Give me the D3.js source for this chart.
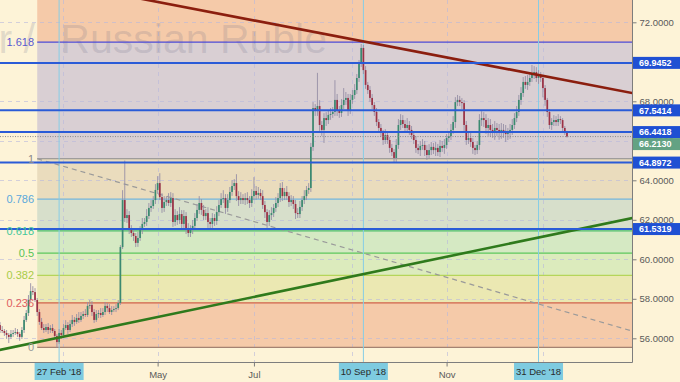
<!DOCTYPE html>
<html><head><meta charset="utf-8">
<script src="https://cdn.jsdelivr.net/npm/d3@7"></script>
<style>html,body{margin:0;padding:0;background:#fdf3d7;}svg{display:block;}</style>
</head><body><svg id="c" width="680" height="382"></svg>
<script>
// ---------- DATA ----------
const firstBarDate = "2018-01-19";
const firstOpen = 56.67;
const closes = [
56.42,56.37,56.27,56.17,56.07,56.22,56.27,56.32,56.22,56.07,56.42,56.93,57.28,57.94,58.39,58.34,57.94,57.33,56.83,56.52,
56.42,56.57,56.42,56.52,56.37,56.12,55.81,56.27,56.17,56.52,56.67,56.42,56.72,56.93,56.83,57.03,56.93,57.13,57.23,57.18,
57.64,57.69,57.33,56.93,57.23,57.28,57.18,57.33,57.64,57.53,57.33,57.43,57.48,57.53,57.79,60.62,63.00,62.09,62.24,61.48,
61.33,61.18,60.83,61.08,61.48,61.79,61.89,62.19,62.60,62.70,63.00,63.51,63.86,63.15,62.60,62.90,63.00,62.85,63.10,61.89,
62.24,61.99,62.29,61.79,62.19,61.58,61.33,61.53,61.69,62.09,62.50,62.85,62.50,62.19,62.34,61.89,61.79,62.09,61.94,62.39,
62.75,63.05,63.10,62.60,63.00,63.41,63.71,63.86,63.20,63.00,63.10,63.00,63.10,63.00,62.85,63.20,63.46,63.26,63.36,63.20,
62.75,62.39,61.89,62.24,62.34,62.60,62.85,63.10,63.61,63.20,63.41,63.20,62.90,63.00,62.80,62.34,62.29,62.65,63.00,63.20,
63.51,63.61,65.69,67.66,67.56,67.76,66.80,66.55,67.15,67.05,67.31,67.36,67.46,68.07,67.56,67.41,67.81,68.07,68.17,67.56,
68.07,68.32,68.57,69.18,69.94,70.70,69.58,68.83,68.57,68.17,67.81,67.46,66.95,66.65,66.40,66.04,66.29,66.04,65.64,65.43,
65.13,65.79,66.80,67.05,66.85,66.65,66.80,66.55,66.29,66.04,65.64,65.53,65.74,65.79,65.53,65.28,65.53,65.69,65.53,65.64,
65.43,65.74,65.64,65.79,66.14,66.24,66.55,66.95,67.96,68.07,67.96,67.91,66.80,66.04,66.14,65.94,65.64,65.53,65.79,67.05,
67.15,67.05,66.65,66.80,66.55,66.45,66.65,66.55,66.40,66.55,66.50,66.34,66.40,66.55,66.80,67.15,67.46,68.07,68.42,68.98,
68.83,68.98,69.18,69.38,69.48,69.18,69.28,69.18,68.67,68.07,67.46,66.80,66.95,67.05,66.95,67.10,67.05,66.65,66.45,66.213
];
const wickHi = [
0.15,0.2,0.1,0.15,0.1,0.2,0.15,0.2,0.15,0.1,0.15,0.2,0.15,0.25,0.4,0.25,0.2,0.1,0.15,0.2,
0.2,0.15,0.2,0.15,0.2,0.1,0.1,0.2,0.15,0.2,0.25,0.15,0.2,0.25,0.15,0.2,0.3,0.2,0.15,0.25,
0.2,0.25,0.2,0.15,0.2,0.15,0.25,0.2,0.2,0.15,0.2,0.2,0.15,0.2,0.15,0.1,0.5,2.0,0.3,0.2,
0.25,0.2,0.15,0.3,0.2,0.3,0.2,0.35,0.25,0.3,0.2,0.3,0.35,0.5,0.2,0.3,0.2,0.35,0.3,0.25,
0.3,0.2,0.35,0.2,0.3,0.2,0.25,0.2,0.3,0.25,0.3,0.35,0.2,0.25,0.2,0.3,0.2,0.25,0.2,0.3,
0.25,0.3,0.4,0.2,0.3,0.25,0.3,0.2,0.45,0.25,0.3,0.2,0.25,0.3,0.2,0.35,0.7,0.25,0.3,0.2,
0.3,0.2,0.15,0.25,0.3,0.2,0.3,0.25,0.25,0.3,0.2,0.3,0.2,0.25,0.2,0.2,0.25,0.3,0.2,0.3,
0.2,0.25,0.2,0.3,0.2,1.68,0.3,0.2,0.25,0.3,0.2,0.3,0.25,1.0,0.3,0.2,0.3,0.6,0.3,0.2,
0.3,0.25,0.3,0.2,0.15,0.2,0.15,0.2,0.15,0.2,0.2,0.15,0.2,0.15,0.2,0.15,0.3,0.2,0.15,0.2,
0.15,0.3,0.3,0.3,0.25,0.2,0.35,0.2,0.2,0.15,0.2,0.2,0.25,0.3,0.2,0.25,0.3,0.25,0.2,0.3,
0.2,0.3,0.25,0.3,0.2,0.25,0.3,0.3,0.25,0.25,0.2,0.2,0.15,0.2,0.35,0.3,0.2,0.15,0.2,0.3,
0.35,0.3,0.3,0.35,0.3,0.3,0.35,0.25,0.3,0.35,0.3,0.3,0.25,0.3,0.3,0.25,0.3,0.25,0.3,0.25,
0.3,0.35,0.3,0.46,0.3,0.25,0.3,0.2,0.15,0.15,0.1,0.15,0.2,0.25,0.2,0.25,0.15,0.1,0.1,0.05
];
const wickLo = [
0.15,0.1,0.15,0.2,0.31,0.1,0.15,0.1,0.15,0.2,0.1,0.15,0.1,0.15,0.1,0.15,0.1,0.2,0.15,0.1,
0.15,0.1,0.2,0.15,0.1,0.15,0.27,0.1,0.2,0.15,0.1,0.2,0.1,0.15,0.2,0.1,0.15,0.1,0.15,0.1,
0.1,0.15,0.2,0.15,0.1,0.2,0.15,0.1,0.15,0.2,0.1,0.15,0.1,0.15,0.1,0.1,0.1,0.2,0.25,0.2,
0.2,0.25,0.21,0.2,0.15,0.2,0.15,0.2,0.15,0.2,0.15,0.2,0.2,0.15,0.25,0.2,0.2,0.15,0.2,0.25,
0.2,0.25,0.2,0.25,0.2,0.3,0.2,0.2,0.25,0.2,0.15,0.2,0.25,0.2,0.2,0.3,0.25,0.2,0.25,0.2,
0.2,0.15,0.2,0.3,0.2,0.15,0.2,0.2,0.25,0.3,0.2,0.2,0.25,0.2,0.25,0.2,0.2,0.25,0.2,0.2,
0.2,0.3,0.3,0.2,0.25,0.2,0.2,0.2,0.2,0.25,0.2,0.2,0.25,0.2,0.25,0.3,0.2,0.2,0.2,0.2,
0.2,0.2,0.2,0.2,0.3,0.3,0.3,0.3,0.66,0.3,0.2,0.25,0.2,0.2,0.3,0.25,0.2,0.2,0.25,0.3,
0.2,0.2,0.2,0.2,0.2,0.2,0.2,0.2,0.2,0.2,0.2,0.2,0.2,0.25,0.2,0.25,0.2,0.2,0.25,0.2,
0.25,0.2,0.2,0.25,0.2,0.2,0.2,0.25,0.2,0.2,0.25,0.2,0.3,0.2,0.3,0.25,0.2,0.25,0.2,0.3,
0.2,0.25,0.2,0.3,0.2,0.2,0.2,0.2,0.3,0.2,0.2,0.3,0.3,0.25,0.2,0.25,0.3,0.25,0.2,0.25,
0.3,0.35,0.3,0.4,0.35,0.3,0.4,0.3,0.35,0.3,0.35,0.4,0.3,0.3,0.25,0.2,0.2,0.2,0.25,0.2,
0.2,0.25,0.2,0.2,0.25,0.2,0.3,0.2,0.47,0.3,0.25,0.2,0.25,0.2,0.2,0.2,0.2,0.2,0.15,0.05
];
const priceTicks = [56,58,60,62,64,66,68,70,72];
const gridMonths = ["2018-03-01","2018-05-01","2018-07-02","2018-09-03","2018-11-01","2019-01-02"];
const monthLabelDates = ["2018-05-01","2018-07-02","2018-11-01"];
const monthLabels = ["May","Jul","Nov"];
const markedDates = ["2018-02-27","2018-09-10","2018-12-31"];
const markedLabels = ["27 Feb '18","10 Sep '18","31 Dec '18"];
const fibStartDate = "2018-02-13";
const fibZero = 55.54, fibOne = 65.09;
const fibLevels = [0,0.236,0.382,0.5,0.618,0.786,1,1.618,2.618];
const fibLabelText = ["0","0.236","0.382","0.5","0.618","0.786","1","1.618",""];
const levelPrices = [69.9452,67.5414,66.4418,64.8972,61.5319];
const lastPrice = 66.2130;
const resistance = [["2018-04-20",73.18],["2018-12-31",69.33]];
const support = [["2018-01-19",55.41],["2018-12-31",61.10]];
const fibDiagonal = [["2018-02-13",65.09],["2018-12-31",57.74]];
const watermarkLeft = "U.S. Dollar /";
const watermarkRight = "Russian Ruble";

// ---------- STYLE ----------
const W=680,H=382, plotR=632, plotB=362;
const cream="#fdf3d7";
const bandColors=["#f5caa9","#ebe8b2","#dcebbd","#d5e9c3","#d7dfcb","#eadcbd","#d9cfd3","#f5caa9"];
const levelLineColors=["#a48272","#d0604a","#b5d55a","#5cc85c","#4cbf6a","#73b4dc","#8a8a8a","#4a4ad8",""];
const labelColors=["#9a9a9a","#e06060","#a8cc48","#56c456","#45c89a","#5aa8dc","#8a8a8a","#5a5ad0",""];
const font="'Liberation Sans', Arial, sans-serif";

// ---------- SCALES ----------
const t0 = new Date(firstBarDate+"T00:00:00Z");
function idxOf(s){
  const d=new Date(s+"T00:00:00Z");
  return d3.utcDay.range(t0,d).filter(v=>v.getUTCDay()%6!==0).length;
}
const x = d3.scaleLinear().domain([0,288.7]).range([0,plotR]);
const y = d3.scaleLinear().domain([56,72]).range([338.3,22.3]);
const xd = s => x(idxOf(s));

const svg=d3.select("#c");
svg.append("rect").attr("width",W).attr("height",H).attr("fill",cream);
svg.append("defs").append("clipPath").attr("id","clip").append("rect").attr("width",plotR).attr("height",plotB);
const plot=svg.append("g").attr("clip-path","url(#clip)");

// fib bands
const fx0 = xd(fibStartDate);
const fibPrice = l => fibZero + l*(fibOne-fibZero);
for(let k=0;k<fibLevels.length-1;k++){
  const a=y(fibPrice(fibLevels[k])), b=y(fibPrice(fibLevels[k+1]));
  plot.append("rect").attr("x",fx0).attr("width",plotR-fx0).attr("y",b).attr("height",a-b).attr("fill",bandColors[k]);
}
// grid
plot.selectAll(".hg").data(priceTicks).join("line").attr("x1",0).attr("x2",plotR)
  .attr("y1",d=>Math.round(y(d))+0.5).attr("y2",d=>Math.round(y(d))+0.5)
  .attr("stroke","#b8b8dc").attr("stroke-opacity",0.6).attr("stroke-dasharray","4,4");
plot.selectAll(".vg").data(gridMonths).join("line").attr("y1",0).attr("y2",plotB)
  .attr("x1",d=>Math.round(xd(d))+0.5).attr("x2",d=>Math.round(xd(d))+0.5)
  .attr("stroke","#b8b8dc").attr("stroke-opacity",0.6).attr("stroke-dasharray","4,4");
// watermark
const wm = plot.append("g").attr("font-family",font).attr("font-size",41).attr("fill","#6e6e88").attr("fill-opacity",0.2);
wm.append("text").attr("x",35).attr("y",53).attr("text-anchor","end").text(watermarkLeft);
wm.append("text").attr("x",327).attr("y",53).attr("text-anchor","end").text(watermarkRight);
// fib lines
fibLevels.forEach((l,k)=>{
  if(!levelLineColors[k]) return;
  const yy=y(fibPrice(l));
  plot.append("line").attr("x1",fx0).attr("x2",plotR).attr("y1",yy).attr("y2",yy)
    .attr("stroke",levelLineColors[k]).attr("stroke-width",1.2);
  svg.append("text").attr("x",34).attr("y",yy).attr("dy","0.35em").attr("text-anchor","end")
    .attr("font-family",font).attr("font-size",11).attr("fill",labelColors[k]).text(fibLabelText[k]);
});
// vertical marker lines
plot.selectAll(".vm").data(markedDates).join("line")
  .attr("x1",d=>xd(d)).attr("x2",d=>xd(d)).attr("y1",0).attr("y2",plotB)
  .attr("stroke","#86cde6").attr("stroke-width",1);

// line helper: extend through two anchors across plot
function trend(anchors, fromStart, color, width, dash){
  const i1=idxOf(anchors[0][0]), p1=anchors[0][1], i2=idxOf(anchors[1][0]), p2=anchors[1][1];
  const s=(p2-p1)/(i2-i1);
  const iA = fromStart? i1 : -20, iB = 300;
  const l=plot.append("line").attr("x1",x(iA)).attr("y1",y(p1+s*(iA-i1)))
    .attr("x2",x(iB)).attr("y2",y(p1+s*(iB-i1)))
    .attr("stroke",color).attr("stroke-width",width);
  if(dash) l.attr("stroke-dasharray",dash);
}
trend(fibDiagonal,true,"#9a9a9a",1.2,"5,4");

// candles
const bars = closes.map((c,i)=>{
  const o = i===0? firstOpen : closes[i-1];
  return {i,o,c,h:Math.max(o,c)+wickHi[i],l:Math.min(o,c)-wickLo[i]};
});
const cg=plot.append("g");
cg.selectAll(".wk").data(bars).join("line")
  .attr("x1",d=>x(d.i)).attr("x2",d=>x(d.i)).attr("y1",d=>y(d.h)).attr("y2",d=>y(d.l))
  .attr("stroke","#968fa6").attr("stroke-width",0.9);
cg.selectAll(".bd").data(bars).join("rect")
  .attr("x",d=>x(d.i)-0.85).attr("width",1.7)
  .attr("y",d=>y(Math.max(d.o,d.c))).attr("height",d=>Math.max(0.8,Math.abs(y(d.o)-y(d.c))))
  .attr("fill",d=>d.c>=d.o?"#3b8a70":"#9c3144");

// trend lines
trend(resistance,false,"#8b1e0e",2.6);
trend(support,false,"#2f7a1c",2.6);
// horizontal levels
plot.selectAll(".lv").data(levelPrices).join("line").attr("x1",0).attr("x2",plotR)
  .attr("y1",d=>y(d)).attr("y2",d=>y(d)).attr("stroke","#2a5bd7").attr("stroke-width",2);
plot.append("line").attr("x1",0).attr("x2",plotR).attr("y1",y(lastPrice)).attr("y2",y(lastPrice))
  .attr("stroke","#8a8a8a").attr("stroke-dasharray","1,1.5").attr("stroke-width",1);

// axes
svg.append("line").attr("x1",plotR+0.5).attr("x2",plotR+0.5).attr("y1",0).attr("y2",plotB+0.5).attr("stroke","#7d7d7d");
svg.append("line").attr("x1",0).attr("x2",plotR+0.5).attr("y1",plotB+0.5).attr("y2",plotB+0.5).attr("stroke","#7d7d7d");
const yAxis = d3.axisRight(y).tickValues(priceTicks).tickSize(4).tickFormat(d3.format(".4f"));
const ya=svg.append("g").attr("transform",`translate(${plotR+0.5},0)`).call(yAxis);
ya.select(".domain").remove();
ya.selectAll("line").attr("stroke","#7d7d7d");
ya.selectAll("text").attr("font-family",font).attr("font-size",9.5).attr("fill","#5a5a5a").attr("x",7);

const xAxis = d3.axisBottom(x).tickValues(monthLabelDates.map(idxOf)).tickSize(4)
  .tickFormat((d,k)=>monthLabels[k]);
const xa=svg.append("g").attr("transform",`translate(0,${plotB+0.5})`).call(xAxis);
xa.select(".domain").remove();
xa.selectAll("line").attr("stroke","#7d7d7d");
xa.selectAll("text").attr("font-family",font).attr("font-size",9.5).attr("fill","#5a5a5a").attr("dy","0.9em");

// date marker labels
markedDates.forEach((d,k)=>{
  const cx=xd(d);
  svg.append("rect").attr("x",cx-24.5).attr("y",363).attr("width",49).attr("height",17).attr("fill","#7ecbe0");
  svg.append("text").attr("x",cx).attr("y",372).attr("dy","0.35em").attr("text-anchor","middle")
    .attr("font-family",font).attr("font-size",9.5).attr("fill","#2a2a2a").text(markedLabels[k]);
});

// right price labels with de-overlap
const labs = levelPrices.map(p=>({p,col:"#1f50d3",txt:p.toFixed(4)}))
  .concat([{p:lastPrice,col:"#63a283",txt:lastPrice.toFixed(4)}]);
labs.forEach(l=>l.cy=y(l.p));
labs.sort((a,b)=>a.cy-b.cy);
const bh=12;
for(let k=1;k<labs.length;k++){ if(labs[k].cy-labs[k-1].cy<bh) labs[k].cy=labs[k-1].cy+bh; }
labs.forEach(l=>{
  svg.append("rect").attr("x",plotR+1).attr("y",l.cy-bh/2).attr("width",W-plotR-1).attr("height",bh).attr("fill",l.col);
  svg.append("text").attr("x",plotR+7).attr("y",l.cy).attr("dy","0.36em")
    .attr("font-family",font).attr("font-size",9).attr("font-weight","bold").attr("fill","#ffffff").text(l.txt);
});
</script></body></html>
